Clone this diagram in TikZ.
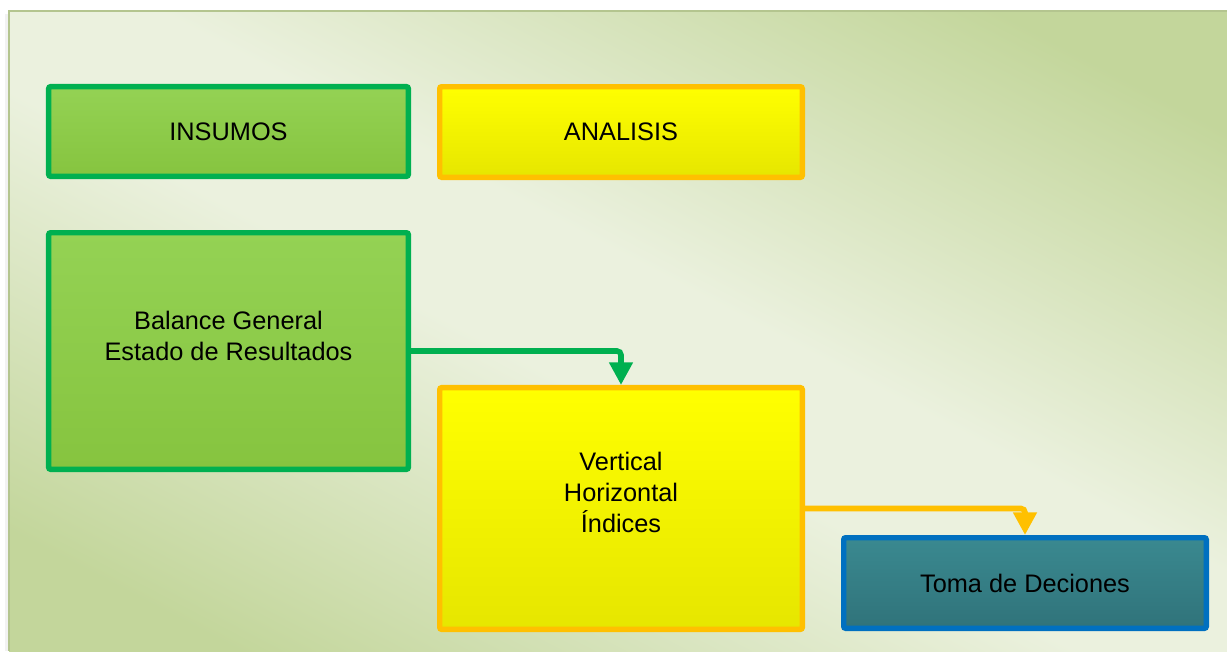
\documentclass[tikz,border=0pt]{standalone}
\usepackage{fontspec}
\setmainfont{Liberation Sans}
\usetikzlibrary{arrows.meta,shadows}

\definecolor{bglight}{HTML}{EBF1DE}
\definecolor{bgdark}{HTML}{C3D69B}
\definecolor{grtop}{HTML}{94D254}
\definecolor{grbot}{HTML}{86C43F}
\definecolor{grline}{HTML}{00B050}
\definecolor{yetop}{HTML}{FFFF00}
\definecolor{yebot}{HTML}{E6E600}
\definecolor{yeline}{HTML}{FFC000}
\definecolor{tetop}{HTML}{3A8990}
\definecolor{tebot}{HTML}{30737A}
\definecolor{teline}{HTML}{0070C0}

\begin{document}
\begin{tikzpicture}[x=0.75pt, y=-0.75pt,
  box/.style={rectangle, rounded corners=1.5pt, line width=4pt, inner sep=0pt,
    drop shadow={shadow xshift=1.2pt, shadow yshift=-1.5pt, opacity=0.15, fill=black}},
  greenbox/.style={box, draw=grline, top color=grtop, bottom color=grbot},
  yellowbox/.style={box, draw=yeline, top color=yetop, bottom color=yebot},
  tealbox/.style={box, draw=teline, top color=tetop, bottom color=tebot},
  lbl/.style={align=center, inner sep=0pt, font=\fontsize{19}{23.25}\selectfont},
  flow/.style={line width=4.2pt, rounded corners=3pt, -{Triangle[width=17pt, length=17pt]}}
]
\useasboundingbox (0,0) rectangle (1227,651);
\fill[white] (0,0) rectangle (1227,651);

% background panel: light band along the diagonal, darker towards two corners
\begin{scope}
  \clip (9,11) rectangle (1227,651);
  \begin{scope}[transform canvas={shift={(618,331)}, rotate=62.3}]
    \fill[bglight] (-70,-900) rectangle (70,900);
    \shade[left color=bglight, right color=bgdark] (69,-900) rectangle (460,900);
    \fill[bgdark] (459,-900) rectangle (760,900);
    \shade[left color=bgdark, right color=bglight] (-460,-900) rectangle (-69,900);
    \fill[bgdark] (-760,-900) rectangle (-459,900);
  \end{scope}
\end{scope}
\fill[black, opacity=0.05] (5,14) rectangle (9,651);
\draw[bgdark!92!black, line width=0.8pt] (1227,11) -- (9,11) -- (9,651);

% boxes
\node[greenbox, minimum width=269.8pt, minimum height=67.3pt] (ins) at (228.5,131.5) {};
\node[yellowbox, minimum width=272pt, minimum height=68pt] (ana) at (621,132) {};
\node[greenbox, minimum width=269.8pt, minimum height=177.5pt] (bal) at (228.5,351) {};
\node[yellowbox, minimum width=272pt, minimum height=181.3pt] (ver) at (621,508.5) {};
\node[tealbox, minimum width=272pt, minimum height=68pt] (dec) at (1025,583) {};

% labels
\node[lbl] (insT) at (ins) {INSUMOS};
\node[lbl] (anaT) at (ana) {ANALISIS};
\node[lbl, yshift=11.5pt] (balT) at (bal) {Balance General\\Estado de Resultados};
\node[lbl, yshift=12pt] (verT) at (ver) {Vertical\\Horizontal\\Índices};
\node[lbl] (decT) at (dec) {Toma de Deciones};

% connectors
\draw[flow, grline] (bal.east) -| (ver.north);
\draw[flow, yeline] (ver.east) -| (dec.north);
\end{tikzpicture}
\end{document}
